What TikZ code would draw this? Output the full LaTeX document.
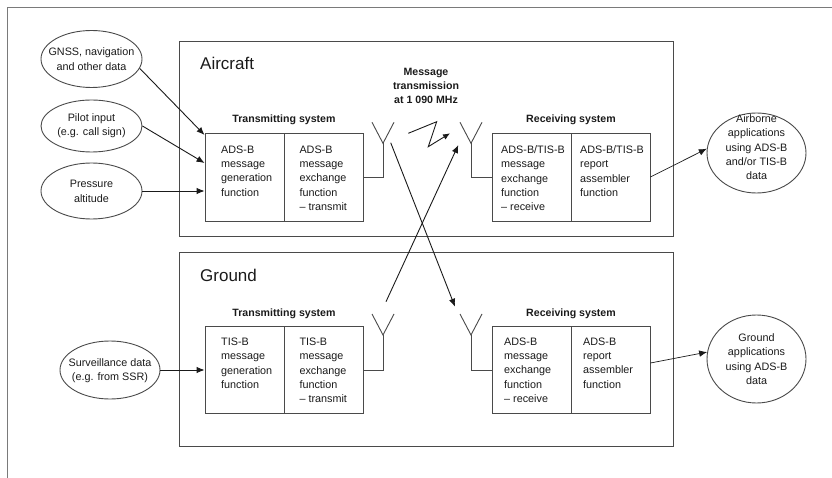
\documentclass[tikz,border=0pt]{standalone}
\usepackage{fontspec}
\setmainfont{Liberation Sans}
\usetikzlibrary{arrows.meta,shapes.geometric}
\definecolor{ink}{HTML}{1A1A1A}
\definecolor{boxc}{HTML}{4A4A4A}
\definecolor{framec}{HTML}{7A7A7A}
\begin{document}
\begin{tikzpicture}[x=1pt,y=-1pt,
  region/.style={draw=boxc, line width=0.9pt, inner sep=0pt},
  cell/.style={draw=boxc, line width=0.9pt, inner sep=0pt, minimum width=79pt},
  txt/.style={inner sep=0pt, text=ink, align=left, font=\fontsize{10.8}{14.3}\selectfont},
  ctxt/.style={inner sep=0pt, text=ink, align=center, font=\fontsize{10.8}{14.4}\selectfont},
  ttl/.style={inner sep=0pt, text=ink, align=center, font=\bfseries\fontsize{10.6}{14.2}\selectfont},
  big/.style={inner sep=0pt, text=ink, font=\fontsize{17}{20}\selectfont},
  oval/.style={ellipse, draw=boxc, line width=0.9pt, inner sep=0pt},
  arr/.style={draw=ink, line width=0.9pt, -{Latex[length=8pt,width=6.5pt]}},
  wire/.style={draw=boxc, line width=0.9pt},
  antenna/.pic={\draw[boxc, line width=0.9pt] (-11,-21) -- (0,0) -- (11,-21);}
]
\useasboundingbox (0,0) rectangle (832,478);
% outer frame
\draw[framec, line width=1.5pt] (7.5,478) -- (7.5,7.5) -- (832,7.5);

% regions
\node[region, minimum width=494pt, minimum height=195pt] (acft) at (426,138.5) {};
\node[region, minimum width=494pt, minimum height=194pt] (gnd) at (426,349) {};
\node[big, anchor=base west] (acftT) at (200,70) {Aircraft};
\node[big, anchor=base west] (gndT) at (200,281) {Ground};

% cells
\node[cell, minimum height=88pt] (atxL) at (244.5,177) {};
\node[cell, minimum height=88pt] (atxR) at (323.5,177) {};
\node[cell, minimum height=88pt] (arxL) at (531.5,177) {};
\node[cell, minimum height=88pt] (arxR) at (610.5,177) {};
\node[cell, minimum height=86.6pt] (gtxL) at (244.5,370) {};
\node[cell, minimum height=86.6pt] (gtxR) at (323.5,370) {};
\node[cell, minimum height=86.6pt] (grxL) at (531.5,370) {};
\node[cell, minimum height=86.6pt] (grxR) at (610.5,370) {};

% titles
\node[ttl, anchor=base] (atxT) at (284,122.5) {Transmitting system};
\node[ttl, anchor=base] (arxT) at (571,122.5) {Receiving system};
\node[ttl, anchor=base] (gtxT) at (284,316) {Transmitting system};
\node[ttl, anchor=base] (grxT) at (571,316) {Receiving system};
\node[ttl, anchor=north] (msg) at (426,68) {Message\\transmission\\at 1 090 MHz};

% cell texts
\node[txt, anchor=north west] (atxLt) at (221,145.5) {ADS-B\\message\\generation\\function};
\node[txt, anchor=north west] (atxRt) at (299.3,145.5) {ADS-B\\message\\exchange\\function\\– transmit};
\node[txt, anchor=north west] (arxLt) at (501,145.5) {ADS-B/TIS-B\\message\\exchange\\function\\– receive};
\node[txt, anchor=north west] (arxRt) at (580,145.5) {ADS-B/TIS-B\\report\\assembler\\function};
\node[txt, anchor=north west] (gtxLt) at (221,337.8) {TIS-B\\message\\generation\\function};
\node[txt, anchor=north west] (gtxRt) at (299.3,337.8) {TIS-B\\message\\exchange\\function\\– transmit};
\node[txt, anchor=north west] (grxLt) at (504,337.5) {ADS-B\\message\\exchange\\function\\– receive};
\node[txt, anchor=north west] (grxRt) at (583,337.5) {ADS-B\\report\\assembler\\function};

% ellipses
\node[oval, minimum width=101pt, minimum height=57pt] (gnss) at (91.5,59) {};
\node[ctxt, anchor=north] (gnssT) at (91.5,47.8) {GNSS, navigation\\and other data};
\node[oval, minimum width=101pt, minimum height=52pt] (pilot) at (91.5,126) {};
\node[ctxt, anchor=north] (pilotT) at (91.5,113.4) {Pilot input\\(e.g. call sign)};
\node[oval, minimum width=101pt, minimum height=56pt] (press) at (91.5,191) {};
\node[ctxt, anchor=north] (pressT) at (91.5,180.1) {Pressure\\altitude};
\node[oval, minimum width=100pt, minimum height=58pt] (surv) at (110,370) {};
\node[ctxt, anchor=north] (survT) at (110,358.1) {Surveillance data\\(e.g. from SSR)};
\node[oval, minimum width=99pt, minimum height=80pt] (airb) at (756.5,153) {};
\node[ctxt, anchor=north] (airbT) at (756.5,114.3) {Airborne\\applications\\using ADS-B\\and/or TIS-B\\data};
\node[oval, minimum width=99pt, minimum height=88pt] (gapp) at (756.5,359) {};
\node[ctxt, anchor=north] (gappT) at (756.5,333.4) {Ground\\applications\\using ADS-B\\data};

% antennas
\coordinate (aTxAnt) at (383,143.3);
\coordinate (aRxAnt) at (471,143.3);
\coordinate (gTxAnt) at (383,335);
\coordinate (gRxAnt) at (471,335);
\pic at (aTxAnt) {antenna};
\pic at (aRxAnt) {antenna};
\pic at (gTxAnt) {antenna};
\pic at (gRxAnt) {antenna};
\draw[wire] (aTxAnt) |- (atxR.east);
\draw[wire] (aRxAnt) |- (arxL.west);
\draw[wire] (gTxAnt) |- (gtxR.east);
\draw[wire] (gRxAnt) |- (grxL.west);

% transmission paths
\coordinate (aOut) at (390.7,142.7);
\coordinate (gIn) at (455,306.7);
\coordinate (gOut) at (386,301.7);
\coordinate (aIn) at (458.3,145);
\draw[arr] (aOut) -- (gIn);
\draw[arr] (gOut) -- (aIn);
\coordinate (z0) at (408.3,133.3);
\coordinate (z1) at (436.7,121.7);
\coordinate (z2) at (428.3,146.7);
\coordinate (z3) at (450,133.3);
\draw[arr, -{Latex[length=7pt,width=6pt]}] (z0) -- (z1) -- (z2) -- (z3);

% inputs / outputs
\draw[arr] (gnss.-11) -- ([yshift=42pt]atxL.west);
\draw[arr] (pilot.east) -- ([yshift=14pt]atxL.west);
\draw[arr] (press.east) -- ([yshift=-14pt]atxL.west);
\draw[arr] (surv.east) -- (gtxL.west);
\draw[arr, line width=0.7pt] (arxR.east) -- (airb.175);
\draw[arr, line width=0.7pt] ([yshift=7pt]grxR.east) -- (gapp.172);
\end{tikzpicture}
\end{document}
